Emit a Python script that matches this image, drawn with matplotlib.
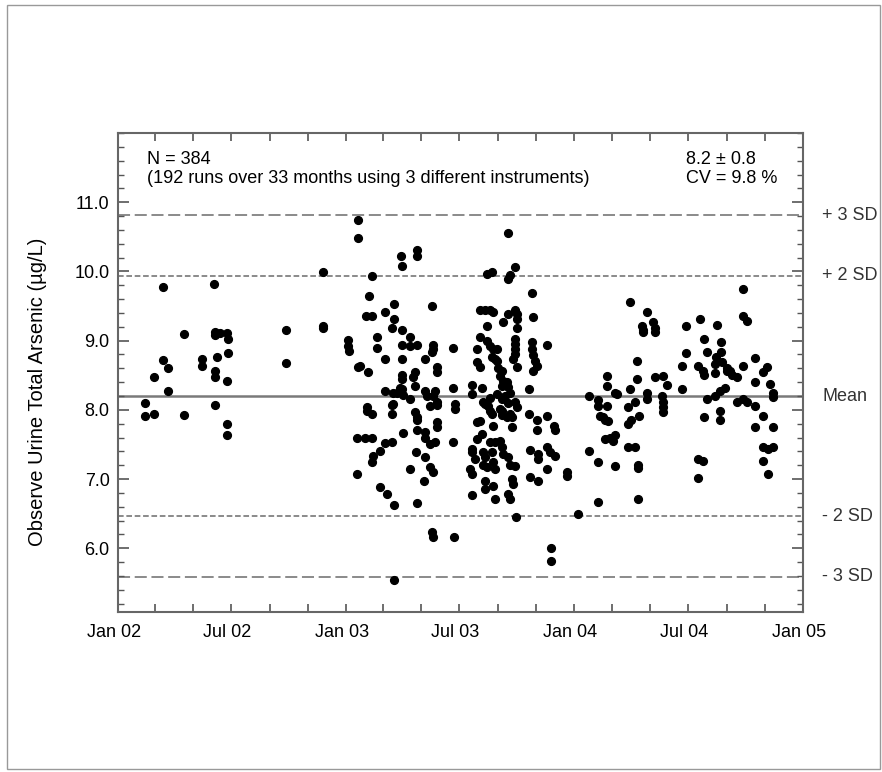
import numpy as np
import pandas as pd
import matplotlib

matplotlib.use("Agg")
import matplotlib.pyplot as plt
import matplotlib.dates as mdates
import matplotlib.transforms as mtransforms
from matplotlib.ticker import FixedLocator, MultipleLocator
from matplotlib.patches import Rectangle

plt.rcParams["font.family"] = ["Liberation Sans", "DejaVu Sans"]

START = pd.Timestamp("2002-01-01")
END = pd.Timestamp("2005-01-01")

# run day = days since 1 Jan 2002, values in ug/L
days_2002 = [43, 43, 58, 58, 72, 72, 80, 80, 106, 106, 134, 134,
             154, 155, 155, 163, 158, 155, 155, 155,
             174, 176, 176, 174, 174, 174, 269, 269, 328, 328, 328]
vals_2002 = [8.10, 7.91, 7.94, 8.47, 8.72, 9.77, 8.60, 8.27, 9.09, 7.92, 8.73, 8.63,
             9.82, 9.12, 9.08, 9.11, 8.77, 8.56, 8.47, 8.07,
             9.11, 9.02, 8.82, 8.41, 7.79, 7.63, 9.15, 8.67, 9.99, 9.21, 9.18]

days_2003 = [368, 368, 370, 384, 384, 384, 382, 382, 387, 400, 395, 397, 398, 398,
             402, 406, 406, 406, 406, 406, 408, 414, 414, 419, 419,
             427, 427, 427, 427, 430, 438, 438, 438, 438, 440, 440,
             442, 442, 442, 442, 446, 451, 453,
             454, 454, 454, 454, 454, 454, 454, 456, 456,
             467, 467, 467, 467, 475, 475, 475, 472, 477,
             478, 478, 478, 478, 478, 478, 478,
             491, 491, 491, 491, 491, 494, 490, 499, 499, 499,
             502, 502, 502, 504, 504, 504, 504, 504, 507, 507,
             510, 510, 510, 510, 510, 510,
             536, 536, 536, 539, 539, 538,
             566, 566, 566, 566, 566, 566, 563, 571,
             574, 574, 574, 574, 579, 579, 579, 579, 582, 582,
             584, 584, 584, 587, 587, 587, 587, 587,
             590, 590, 590, 590, 592,
             595, 595, 595, 595, 595, 598, 598, 598, 598,
             600, 600, 600, 600, 600, 603, 603, 603, 603,
             606, 606, 606, 608, 611, 611, 611,
             614, 614, 614, 614, 614, 614, 616, 616, 616, 619, 622, 622,
             624, 624, 624, 624, 624, 624, 624, 627, 627, 627, 627, 627,
             630, 630, 630, 632, 632,
             635, 635, 635, 635, 635, 635, 635, 635, 637,
             638, 638, 638, 638, 638,
             658, 658, 659, 659, 662, 662, 662, 664, 664, 664, 667,
             670, 670, 670, 672, 672, 672,
             686, 686, 686, 686, 691, 698, 699, 699, 693, 693, 718, 718]
vals_2003 = [9.01, 8.92, 8.85, 8.62, 10.75, 10.49, 7.59, 7.08, 8.63, 8.54, 7.60, 9.35, 8.04, 7.98,
             9.64, 9.93, 9.35, 7.94, 7.60, 7.24, 7.34, 9.05, 8.90, 7.40, 6.88,
             9.41, 8.73, 8.27, 7.52, 6.78, 9.18, 8.07, 7.94, 7.53, 8.24, 8.08,
             9.53, 9.31, 6.62, 5.54, 8.24, 8.31, 10.22,
             10.08, 9.16, 8.93, 8.73, 8.50, 8.44, 8.30, 8.21, 7.66,
             9.05, 8.92, 8.15, 7.14, 8.54, 8.34, 7.97, 8.47, 7.39,
             10.31, 10.23, 8.93, 7.89, 7.86, 7.71, 6.65,
             8.73, 8.27, 7.68, 7.60, 7.32, 8.20, 6.97, 8.05, 7.50, 7.17,
             9.50, 8.83, 6.23, 8.93, 8.88, 8.20, 7.10, 6.17, 7.53, 8.27,
             8.62, 8.54, 8.12, 8.07, 7.82, 7.75,
             8.90, 8.31, 7.53, 8.08, 8.01, 6.16,
             8.36, 8.23, 7.43, 7.39, 7.07, 6.77, 7.14, 7.29,
             8.88, 8.69, 7.82, 7.58, 9.45, 9.05, 8.62, 7.84, 8.31, 7.65,
             8.11, 7.39, 7.21, 9.44, 8.08, 7.32, 6.97, 6.85,
             9.96, 9.21, 9.00, 7.18, 8.05,
             9.44, 8.92, 8.17, 7.98, 7.53, 9.99, 8.77, 7.94, 7.39,
             9.42, 8.88, 7.76, 7.24, 6.90, 8.73, 7.53, 7.14, 6.71,
             8.88, 8.70, 8.23, 8.60, 8.49, 8.01, 7.55,
             8.56, 8.34, 8.15, 7.98, 7.92, 7.47, 9.27, 8.41, 7.36, 8.20, 8.40, 7.89,
             10.55, 9.89, 9.38, 8.33, 8.10, 7.32, 6.78, 9.95, 8.25, 7.94, 7.21, 6.71,
             7.89, 7.75, 7.00, 8.73, 6.93,
             10.06, 9.44, 9.02, 8.95, 8.88, 8.80, 8.11, 7.19, 6.45,
             9.38, 9.31, 9.19, 8.62, 8.04,
             8.30, 7.94, 7.42, 7.03, 9.69, 8.98, 8.88, 9.34, 8.79, 8.56, 8.70,
             8.63, 7.86, 7.71, 7.36, 7.29, 6.97,
             8.93, 7.91, 7.47, 7.14, 7.39, 7.76, 7.71, 7.33, 6.00, 5.81, 7.10, 7.04]

days_2004 = [736, 754, 754, 768, 768, 768, 768, 771, 776, 779, 779,
             782, 782, 782, 784, 787, 792, 795, 795, 795, 798,
             816, 816, 816, 819, 819, 821, 827, 827, 830, 830, 834, 832, 832, 832,
             838, 840, 840, 846, 846, 846, 856, 859, 859, 859,
             872, 872, 872, 872, 878, 870, 902, 902, 909, 909,
             928, 928, 928, 936, 936, 931, 938, 938, 938, 942, 942,
             955, 955, 955, 957, 958, 963, 963, 963, 965, 965, 966, 971,
             974, 974, 979, 982, 990, 990, 1000, 1000, 1000, 1000, 1006, 1006,
             1019, 1019, 1019, 1019, 1032, 1032, 1032, 1032, 1038, 1040, 1040, 1043,
             1048, 1048, 1048, 1048]
vals_2004 = [6.49, 8.20, 7.40, 8.14, 8.05, 7.24, 6.67, 7.91, 7.89, 7.86, 7.58,
             8.49, 8.34, 8.05, 7.84, 7.60, 7.55, 7.63, 8.25, 7.19, 8.23,
             8.04, 7.79, 7.47, 8.30, 9.56, 7.86, 7.47, 8.12, 8.70, 8.44, 7.91, 7.21, 7.16, 6.71,
             9.21, 9.16, 9.12, 9.42, 8.25, 8.15, 9.27, 9.19, 9.12, 8.47,
             8.49, 8.11, 8.04, 7.97, 8.36, 8.20, 8.64, 8.30, 9.21, 8.82,
             8.63, 7.29, 7.01, 7.26, 8.56, 9.32, 9.02, 8.51, 7.89, 8.83, 8.15,
             8.66, 8.53, 8.20, 8.77, 9.22, 8.27, 7.98, 7.86, 8.98, 8.83, 8.69, 8.31,
             8.60, 8.56, 8.56, 8.51, 8.47, 8.12, 9.74, 9.35, 8.64, 8.15, 9.29, 8.12,
             8.75, 8.40, 8.05, 7.75, 8.54, 7.91, 7.47, 7.26, 8.62, 7.43, 7.07, 8.37,
             7.47, 8.25, 8.18, 7.75]

MEAN = 8.2
SD = 0.87
sd_mult = [3, 2, 0, -2, -3]
sd_labels = ["+ 3 SD", "+ 2 SD", "Mean", "- 2 SD", "- 3 SD"]

FS = 13


def to_dates(days):
    return START + pd.to_timedelta(np.asarray(days), unit="D")


fig = plt.figure(figsize=(8.82, 7.72), dpi=100)
ax = fig.add_axes([0.1338, 0.2073, 0.7766, 0.6204])

# control lines
line_styles = {3: (6.2, 2.4), 2: (2.9, 1.4)}
for k, lab in zip(sd_mult, sd_labels):
    y = MEAN + k * SD
    if k == 0:
        ax.axhline(y, color="#7a7a7a", lw=1.8, zorder=1)
    else:
        ax.axhline(y, color="#8a8a8a", lw=1.4, dashes=line_styles[abs(k)], zorder=1)
    ax.text(1.028, y, lab, transform=ax.get_yaxis_transform(), ha="left",
            va="center", fontsize=FS, color="#333")

for d, v in [(days_2002, vals_2002), (days_2003, vals_2003), (days_2004, vals_2004)]:
    ax.plot(to_dates(d), v, "o", color="black", ms=5.6, mec="black", zorder=3)

ax.set_xlim(START, END)
ax.set_ylim(5.08, 12.0)

ax.xaxis.set_major_locator(mdates.MonthLocator(bymonth=[1, 3, 5, 7, 9, 11]))
ax.xaxis.set_major_formatter(mdates.DateFormatter(""))
shift = ax.get_xaxis_transform() + mtransforms.ScaledTranslation(-4 / 100, 0, fig.dpi_scale_trans)
for dt in pd.date_range("2002-01-01", "2005-01-01", freq="6MS"):
    ax.text(mdates.date2num(dt), -0.026, dt.strftime("%b %y"),
            transform=shift, ha="center", va="top", fontsize=FS)

ax.yaxis.set_major_locator(FixedLocator(np.arange(6, 11.5, 1.0)))
ax.yaxis.set_minor_locator(MultipleLocator(0.2))
ax.yaxis.set_major_formatter(plt.FormatStrFormatter("%.1f"))
ax.tick_params(axis="both", which="both", direction="in", top=True, right=True,
               colors="#555", labelcolor="black", labelsize=FS)
ax.tick_params(axis="y", which="major", length=8, width=1.2, pad=6)
ax.tick_params(axis="y", which="minor", length=4, width=1.0)
ax.tick_params(axis="x", which="major", length=6, width=1.2)
for s in ax.spines.values():
    s.set_color("#666")
    s.set_linewidth(1.5)

ax.set_ylabel("Observe Urine Total Arsenic (µg/L)", fontsize=14.5)
ax.yaxis.set_label_coords(-0.104, 0.46)

ax.text(0.042, 0.944, "N = 384", transform=ax.transAxes, fontsize=FS, va="center")
ax.text(0.042, 0.904, "(192 runs over 33 months using 3 different instruments)",
        transform=ax.transAxes, fontsize=FS, va="center")
ax.text(0.829, 0.944, "8.2 ± 0.8", transform=ax.transAxes, fontsize=FS, va="center")
ax.text(0.829, 0.904, "CV = 9.8 %", transform=ax.transAxes, fontsize=FS, va="center")

fig.patches.append(Rectangle((0.008, 0.004), 0.99, 0.99, transform=fig.transFigure,
                             fill=False, ec="#999", lw=1))

fig.savefig("out.png", dpi=100)
